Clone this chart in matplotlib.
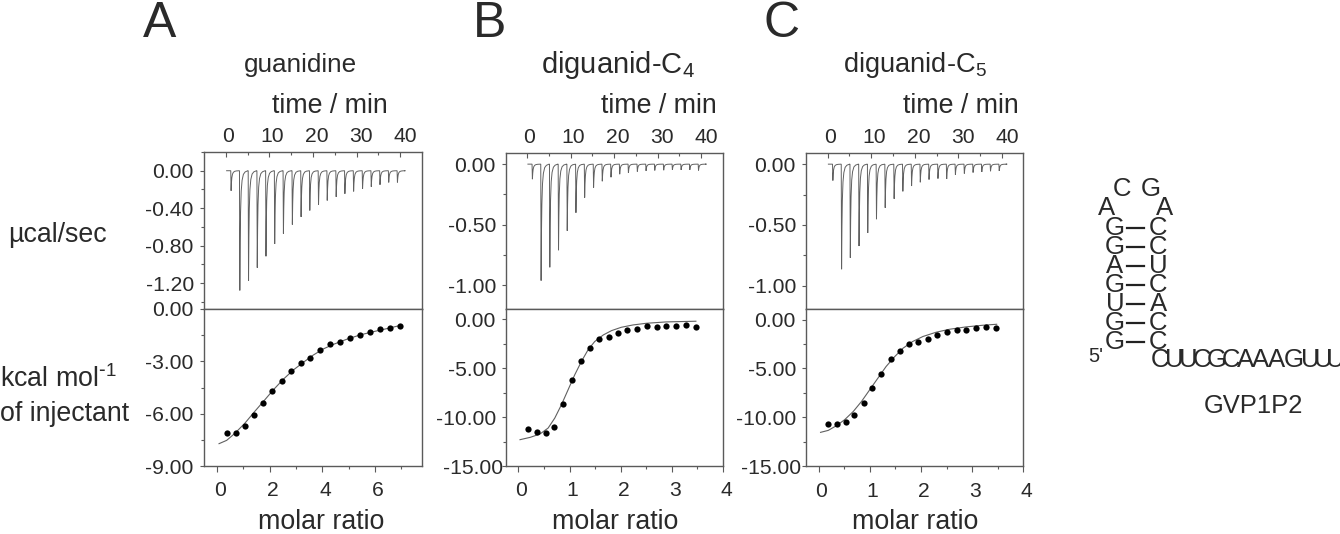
import matplotlib
matplotlib.use("Agg")
import matplotlib.pyplot as plt
from matplotlib.lines import Line2D
from matplotlib.transforms import ScaledTranslation
import numpy as np

W, H = 1340, 534
plt.rcParams['font.family'] = ['Liberation Sans', 'DejaVu Sans']
plt.rcParams['mathtext.default'] = 'regular'
plt.rcParams['axes.unicode_minus'] = False
TXT = '#2a2a2a'
AX = '#5a5a5a'

# injection times (min)
inj_time = [1.15, 3.15, 5.15, 7.15, 9.15, 11.15, 13.15, 15.2, 17.2, 19.2,
            21.2, 23.2, 25.25, 27.25, 29.25, 31.3, 33.3, 35.3, 37.3, 39.3]
# peak depths (ucal/sec)
peaks_a = [.214, 1.279, 1.175, 1.036, .914, .782, .671, .575, .493, .425,
           .364, .318, .279, .246, .221, .193, .171, .15, .125, .125]
peaks_b = [.124, .961, .851, .710, .550, .401, .276, .193, .141, .108,
           .083, .072, .061, .055, .052, .050, .047, .047, .047, .052]
peaks_c = [.135, .865, .771, .674, .566, .453, .359, .285, .224, .180,
           .149, .127, .119, .122, .086, .077, .069, .064, .058, .055]

# integrated heats
ratio_a = [.39, .73, 1.08, 1.42, 1.76, 2.11, 2.47, 2.82, 3.19, 3.54, 3.92, 4.29, 4.67, 5.05, 5.43, 5.81, 6.19, 6.58, 6.97]
heat_a = [-7.09, -7.11, -6.73, -6.06, -5.39, -4.72, -4.15, -3.54, -3.08, -2.79, -2.37, -2.01, -1.87, -1.68, -1.49, -1.32, -1.17, -1.11, -.97]
fitx_a = [.08, .37, .68, 1.06, 1.42, 1.76, 2.14, 2.52, 2.90, 3.28, 3.66, 4.04, 4.42, 4.92, 5.43, 5.94, 6.44, 6.97]
fity_a = [-7.72, -7.53, -7.13, -6.55, -5.90, -5.31, -4.64, -4.03, -3.50, -3.06, -2.64, -2.29, -2.03, -1.74, -1.49, -1.30, -1.13, -.94]

ratio_b = [.19, .36, .53, .70, .88, 1.05, 1.22, 1.40, 1.58, 1.77, 1.95, 2.13, 2.32, 2.51, 2.70, 2.89, 3.08, 3.28, 3.47]
heat_b = [-11.26, -11.50, -11.60, -10.99, -8.71, -6.22, -4.22, -2.89, -2.04, -1.84, -1.36, -1.09, -.99, -.68, -.75, -.71, -.71, -.58, -.75]
fitx_b = [.03, .23, .42, .58, .71, .84, .97, 1.10, 1.23, 1.36, 1.49, 1.66, 1.82, 2.01, 2.24, 2.50, 2.89, 3.47]
fity_b = [-12.31, -12.07, -11.73, -11.12, -10.10, -8.74, -7.21, -5.68, -4.32, -3.13, -2.28, -1.60, -1.16, -.82, -.58, -.41, -.27, -.20]

ratio_c = [.19, .36, .53, .70, .88, 1.05, 1.23, 1.41, 1.59, 1.77, 1.95, 2.14, 2.32, 2.51, 2.70, 2.89, 3.08, 3.28, 3.47]
heat_c = [-10.68, -10.65, -10.48, -9.73, -8.50, -6.97, -5.54, -4.08, -3.20, -2.52, -2.28, -1.94, -1.56, -1.26, -1.09, -1.09, -.88, -.75, -.85]
fitx_c = [.04, .19, .35, .51, .68, .84, 1.00, 1.16, 1.32, 1.49, 1.65, 1.84, 2.04, 2.30, 2.56, 2.88, 3.21, 3.48]
fity_c = [-11.53, -11.33, -10.85, -10.24, -9.39, -8.37, -7.18, -5.99, -4.80, -3.78, -2.93, -2.24, -1.73, -1.29, -.99, -.75, -.58, -.48]

titles = ['guanidine', 'diguanid-C$_4$', 'diguanid-C$_5$']
letters = ['A', 'B', 'C']
time_ticks = [0, 10, 20, 30, 40]
time_minor = [5, 15, 25, 35]

fig = plt.figure(figsize=(W / 100, H / 100), dpi=100, facecolor='white')


def rect(l, r, t, b):
    return [l / W, 1 - b / H, (r - l) / W, (b - t) / H]


def label(x, y, s, size, ha='center', **kw):
    fig.text(x / W, 1 - y / H, s, fontsize=size, ha=ha, va='center', color=TXT, **kw)


def style(ax):
    for s in ax.spines.values():
        s.set_color(AX)
        s.set_linewidth(1.0)


def nudge(lab, dx, dy=0):
    lab.set_transform(lab.get_transform() + ScaledTranslation(dx / 100, dy / 100, fig.dpi_scale_trans))


def trace(ax, peaks):
    # each injection: sharp drop, then a quick curved return towards the baseline
    offs = [0, .08, .16, .25, .4, .6, .9, 1.3, 1.9]
    frac = [0, 1, .6, .35, .17, .08, .03, .01, 0]
    xs, ys = [0.2], [0.0]
    for t, d in zip(inj_time, peaks):
        for o, f in zip(offs, frac):
            xs.append(t + o)
            ys.append(-d * f)
    xs.append(41)
    ys.append(0)
    ax.plot(xs, ys, color='#606060', lw=0.7, solid_joinstyle='miter')


panels = [
    dict(l=203.5, r=421.5, t=152, m=309, b=466, txlim=(-5.1, 44.9),
         uylim=(0.2, -1.477), uticks=[0, -.4, -.8, -1.2], ulabels=['0.00', '-0.40', '-0.80', '-1.20'],
         uminor=[.2, -.2, -.6, -1.0, -1.4], peaks=peaks_a,
         lxlim=(-.51, 7.77), lylim=(-9, 0), lticks=[0, -3, -6, -9], llabels=['0.00', '-3.00', '-6.00', '-9.00'],
         lminor=[-1.5, -4.5, -7.5], xticks=[0, 2, 4, 6], xminor=[1, 3, 5, 7],
         rx=ratio_a, ry=heat_a, fx=fitx_a, fy=fity_a, shift=0),
    dict(l=505.7, r=723, t=152.5, m=309, b=466, txlim=(-4.9, 45),
         uylim=(.096, -1.195), uticks=[0, -.5, -1], ulabels=['0.00', '-0.50', '-1.00'],
         uminor=[-.25, -.75], peaks=peaks_b,
         lxlim=(-.25, 4), lylim=(-15, 1.05), lticks=[0, -5, -10, -15], llabels=['0.00', '-5.00', '-10.00', '-15.00'],
         lminor=[-2.5, -7.5, -12.5], xticks=[0, 1, 2, 3, 4], xminor=[.5, 1.5, 2.5, 3.5],
         rx=ratio_b, ry=heat_b, fx=fitx_b, fy=fity_b, shift=7),
    dict(l=805.7, r=1023.3, t=152.5, m=309.3, b=466.3, txlim=(-5, 44.9),
         uylim=(.096, -1.195), uticks=[0, -.5, -1], ulabels=['0.00', '-0.50', '-1.00'],
         uminor=[-.25, -.75], peaks=peaks_c,
         lxlim=(-.25, 4), lylim=(-15, 1.05), lticks=[0, -5, -10, -15], llabels=['0.00', '-5.00', '-10.00', '-15.00'],
         lminor=[-2.5, -7.5, -12.5], xticks=[0, 1, 2, 3, 4], xminor=[.5, 1.5, 2.5, 3.5],
         rx=ratio_c, ry=heat_c, fx=fitx_c, fy=fity_c, shift=5),
]

TICK = 15.2
for p in panels:
    up = fig.add_axes(rect(p['l'], p['r'], p['t'], p['m']))
    lo = fig.add_axes(rect(p['l'], p['r'], p['m'], p['b']))
    style(up)
    style(lo)

    trace(up, p['peaks'])
    up.set_xlim(*p['txlim'])
    up.set_ylim(p['uylim'][1], p['uylim'][0])
    up.xaxis.tick_top()
    up.set_xticks(time_ticks)
    up.set_xticklabels([str(v) for v in time_ticks], fontsize=TICK, color=TXT)
    up.set_xticks(time_minor, minor=True)
    up.tick_params(axis='x', which='major', direction='in', length=3.5, width=.8, color=AX, pad=4)
    up.tick_params(axis='x', which='minor', direction='in', length=2, width=.8, color=AX)
    up.set_yticks(p['uticks'])
    up.set_yticklabels(p['ulabels'], fontsize=TICK, color=TXT)
    up.set_yticks(p['uminor'], minor=True)
    up.tick_params(axis='y', which='major', direction='out', length=3, width=.8, color=AX, pad=4)
    up.tick_params(axis='y', which='minor', direction='out', length=2, width=.8, color=AX)
    for i, lab in enumerate(up.get_xticklabels()):
        nudge(lab, 2.5 + 0.6 * i)

    lo.plot(p['fx'], p['fy'], color='#606060', lw=0.8)
    lo.plot(p['rx'], p['ry'], 'o', color='black', ms=4.5, mew=0)
    lo.set_xlim(*p['lxlim'])
    lo.set_ylim(*p['lylim'])
    lo.set_xticks(p['xticks'])
    lo.set_xticklabels([str(v) for v in p['xticks']], fontsize=TICK, color=TXT)
    lo.set_xticks(p['xminor'], minor=True)
    lo.tick_params(axis='x', which='major', direction='out', length=4, width=.8, color=AX, pad=7)
    lo.tick_params(axis='x', which='minor', direction='out', length=2, width=.8, color=AX)
    lo.set_yticks(p['lticks'])
    lo.set_yticklabels(p['llabels'], fontsize=TICK, color=TXT)
    lo.set_yticks(p['lminor'], minor=True)
    lo.tick_params(axis='y', which='major', direction='out', length=3, width=.8, color=AX, pad=4)
    lo.tick_params(axis='y', which='minor', direction='out', length=2, width=.8, color=AX)
    for lab in lo.get_xticklabels():
        nudge(lab, 3)
    if p['shift']:
        nudge(lo.get_yticklabels()[-1], p['shift'])

BIG = 19.3
for s, x in zip(letters, [160, 490, 782]):
    label(x, 24, s, 36)
for s, x, size in zip(titles, [300, 618, 915], [18.8, 21, 19.6]):
    label(x, 65, s, size)
for x in [329.5, 658.5, 961]:
    label(x, 106, 'time / min', BIG)
for x in [321, 615.5, 915]:
    label(x, 522, 'molar ratio', BIG)

label(8, 235, 'µcal/sec', BIG, ha='left')
label(0, 379, r'kcal mol$^{\text{-}1}$', BIG, ha='left')
label(0, 414, 'of injectant', BIG, ha='left')

# RNA hairpin
left_col = list('GGAGUGG')
right_col = list('CCUCACC')
col_y = [227.7, 246.7, 265.7, 285, 304, 322.7, 341.7]
RNA = 18.5
for a, b, y in zip(left_col, right_col, col_y):
    label(1115, y, a, RNA)
    label(1158.3, y, b, RNA)
    fig.add_artist(Line2D([1126.7 / W, 1144 / W], [1 - y / H] * 2, color='#222222', lw=1.6))
for s, x, y in [('C', 1121.7, 189), ('G', 1151, 189), ('A', 1106.7, 208.3), ('A', 1165, 208.3)]:
    label(x, y, s, RNA)
label(1095.7, 356.7, "5'", 14.5)
tail = list('CUUCGCAAAGUUU')
tail_x = [1160, 1174, 1188, 1202, 1217, 1231, 1245.5, 1261, 1277, 1294, 1310, 1323, 1335]
for s, x in zip(tail, tail_x):
    label(x, 360, s, RNA)
label(1253, 406, 'GVP1P2', 18.4)

fig.savefig('out.png', dpi=100, facecolor='white')
